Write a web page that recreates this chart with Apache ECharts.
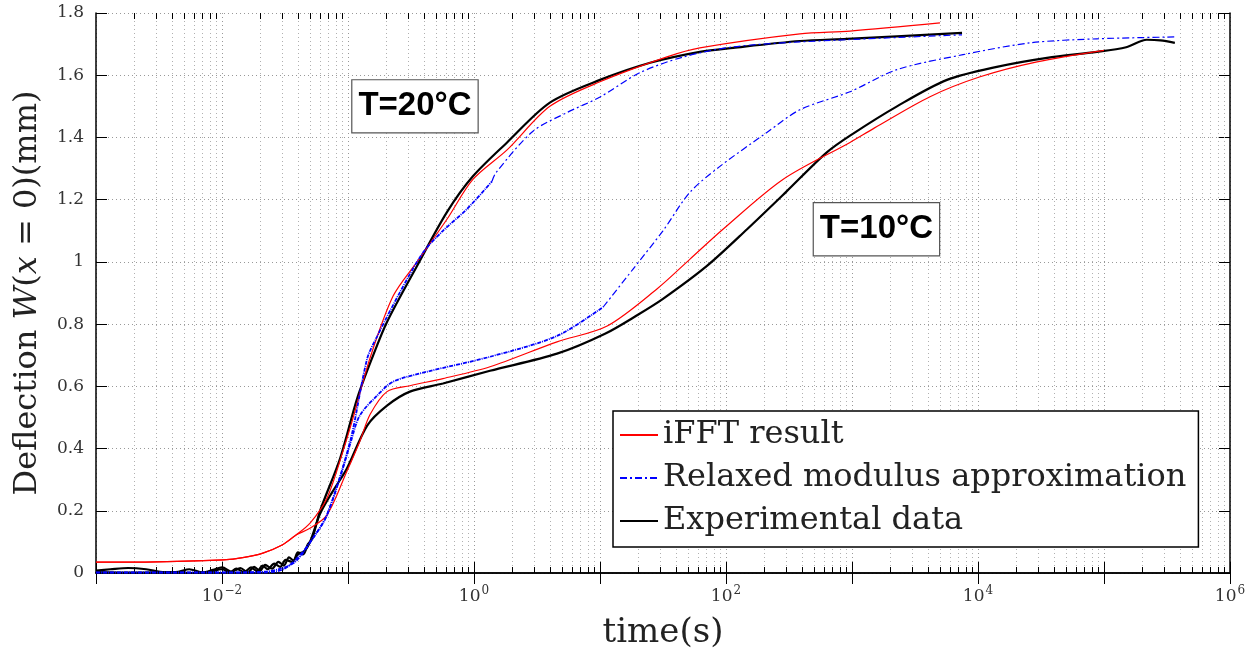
<!DOCTYPE html>
<html>
<head>
<meta charset="utf-8">
<script src="https://cdn.jsdelivr.net/npm/echarts@6/dist/echarts.min.js"></script>
<style>
  html, body { margin: 0; padding: 0; background: #fff; }
  #main { width: 1257px; height: 655px; }
</style>
</head>
<body>
<div id="main"></div>
<script>
// [time (s), deflection (mm)]
const ifft20 = [[0.001,0.035],[0.003,0.036],[0.0102,0.042],[0.015,0.05],[0.0211,0.064],[0.03,0.09],[0.0387,0.122],[0.05,0.16],[0.068,0.24],[0.091,0.39],[0.11,0.5],[0.149,0.689],[0.228,0.89],[0.353,1.0],[0.61,1.137],[0.98,1.265],[1.83,1.36],[4,1.5],[10,1.579],[34,1.659],[62,1.688],[386,1.733],[964,1.742],[4990,1.768]];
const ifft10 = [[0.001,0.035],[0.003,0.036],[0.0102,0.042],[0.015,0.05],[0.0211,0.064],[0.03,0.09],[0.0387,0.122],[0.0499,0.144],[0.068,0.186],[0.098,0.327],[0.124,0.423],[0.15,0.51],[0.204,0.583],[0.31,0.602],[0.567,0.625],[1.34,0.663],[4.56,0.743],[11.4,0.794],[28.3,0.913],[51.8,1.009],[94.6,1.105],[283,1.265],[964,1.384],[1500,1.43],[4160,1.531],[10400,1.595],[29400,1.643],[100000,1.68]];

const relaxed20Dense = [[0.001,0.002],[0.01,0.002],[0.021,0.004],[0.03,0.015],[0.0387,0.038],[0.0527,0.112],[0.068,0.186],[0.104,0.423],[0.142,0.689],[0.17,0.76],[0.259,0.903],[0.394,1.03],[0.567,1.1],[0.88,1.17],[1.39,1.259]];
const relaxed20Sparse = [[1.39,1.259],[1.5,1.288],[2.94,1.42],[5.47,1.48],[10,1.53],[20.7,1.608],[46,1.659],[114,1.691],[386,1.707],[7470,1.73]];
const relaxed10Dense = [[0.001,0.001],[0.02,0.001],[0.03,0.01],[0.04,0.05],[0.0527,0.112],[0.068,0.186],[0.09,0.33],[0.105,0.42],[0.124,0.506],[0.17,0.57],[0.228,0.615],[0.424,0.647],[1.34,0.695],[4.56,0.762],[10.6,0.855]];
const relaxed10Sparse = [[10.6,0.855],[18.3,0.977],[31.6,1.1],[51.8,1.224],[89.5,1.307],[211,1.416],[386,1.489],[964,1.547],[2275,1.618],[7600,1.666],[25900,1.704],[87900,1.717],[365000,1.723]];

const exp20 = [[0.001,0.008],[0.0013,0.012],[0.0018,0.016],[0.0025,0.012],[0.0035,0.002],[0.0045,0.004],[0.0055,0.012],[0.007,0.002],[0.0085,0.01],[0.01,0.018],[0.012,0.004],[0.014,0.016],[0.016,0.002],[0.018,0.02],[0.02,0.006],[0.022,0.026],[0.025,0.014],[0.028,0.036],[0.031,0.024],[0.034,0.05],[0.037,0.04],[0.04,0.066],[0.044,0.06],[0.048,0.092],[0.052,0.11],[0.06,0.2],[0.0865,0.368],[0.118,0.56],[0.155,0.69],[0.204,0.807],[0.353,0.987],[0.61,1.16],[0.98,1.275],[1.83,1.384],[4,1.512],[10,1.585],[25,1.64],[62,1.675],[114,1.688],[386,1.71],[912,1.717],[7470,1.736]];
const exp10 = [[0.001,0.003],[0.002,0.001],[0.004,0.003],[0.006,0.0],[0.008,0.004],[0.01,0.012],[0.0115,0.002],[0.013,0.014],[0.015,0.003],[0.017,0.018],[0.019,0.006],[0.021,0.024],[0.023,0.012],[0.026,0.03],[0.029,0.02],[0.032,0.042],[0.036,0.036],[0.04,0.06],[0.045,0.07],[0.05,0.1],[0.06,0.19],[0.075,0.26],[0.098,0.336],[0.142,0.474],[0.204,0.538],[0.31,0.583],[0.567,0.609],[1.34,0.65],[4.56,0.705],[10.96,0.769],[20,0.83],[31.6,0.881],[70.6,0.987],[147,1.105],[300,1.225],[631,1.352],[1000,1.41],[2275,1.5],[5675,1.585],[14100,1.627],[35300,1.656],[87900,1.675],[150000,1.69],[219000,1.714],[280000,1.712],[365000,1.704]];

const legendNames = ['iFFT result', 'Relaxed modulus approximation', 'Experimental data'];
// annotation boxes: [label, time, deflection]
const annotations = [['T=20°C', 0.34, 1.5], ['T=10°C', 1563, 1.105]];

// minor log ticks 2..9 in each decade
const decades = [-3, -2, -1, 0, 1, 2, 3, 4, 5];
const minorSteps = [2, 3, 4, 5, 6, 7, 8, 9];
const minorTicks = [];
decades.forEach(function (d) {
  minorSteps.forEach(function (m) { minorTicks.push([m * Math.pow(10, d), 0]); });
});

const serif = 'DejaVu Serif';
const dashDot = [7, 3, 2, 3];

function sup(v) {
  const e = Math.round(Math.log10(v));
  if (e % 2 !== 0) return '';
  return '{b|10}{e|' + String(e).replace('-', '\u2212') + '}';
}

function curve(name, data, color, width, dash, z) {
  return {
    name: name,
    type: 'line',
    data: data,
    symbol: 'none',
    smooth: 0.3,
    z: z,
    lineStyle: { color: color, width: width, type: dash || 'solid' },
    itemStyle: { color: color },
  };
}

let option = {
  animation: false,
  backgroundColor: '#fff',
  grid: { left: 96, right: 27, top: 13, bottom: 80 },
  legend: {
    data: legendNames,
    orient: 'vertical',
    left: 613,
    top: 411,
    padding: [8, 12, 10, 6],
    itemGap: 11,
    itemWidth: 38,
    itemHeight: 16,
    itemStyle: { opacity: 0 },
    backgroundColor: '#fff',
    borderColor: '#000',
    borderWidth: 1.5,
    borderRadius: 0,
    textStyle: { fontFamily: serif, fontSize: 32, color: '#222' },
  },
  xAxis: [
    {
      type: 'log',
      logBase: 10,
      min: 0.001,
      max: 1e6,
      position: 'bottom',
      name: 'time(s)',
      nameLocation: 'middle',
      nameGap: 43,
      nameTextStyle: { fontFamily: serif, fontSize: 34, color: '#222' },
      axisLine: { show: true, lineStyle: { color: '#000', width: 1.5 } },
      axisTick: { inside: true, length: 11, lineStyle: { color: '#000' } },
      axisLabel: {
        margin: 12,
        formatter: sup,
        rich: {
          b: { fontFamily: serif, fontSize: 17, color: '#333' },
          e: { fontFamily: serif, fontSize: 12, color: '#333', padding: [0, 0, 12, 1] },
        },
      },
      splitLine: { show: true, lineStyle: { color: '#999', type: [1, 3] } },
    },
    {
      type: 'log',
      logBase: 10,
      min: 0.001,
      max: 1e6,
      position: 'top',
      axisLine: { show: true, lineStyle: { color: '#000', width: 1.5 } },
      axisTick: { inside: true, length: 11, lineStyle: { color: '#000' } },
      axisLabel: { show: false },
      splitLine: { show: false },
    },
  ],
  yAxis: [
    {
      type: 'value',
      min: 0,
      max: 1.8,
      interval: 0.2,
      name: '{n|Deflection }{i|W}{n|(}{i|x}{n| = 0)(mm)}',
      nameLocation: 'middle',
      nameRotate: 90,
      nameGap: 52,
      nameTextStyle: {
        rich: {
          n: { fontFamily: serif, fontSize: 32, color: '#222' },
          i: { fontFamily: serif, fontStyle: 'italic', fontSize: 32, color: '#222' },
        },
      },
      axisLine: { show: true, lineStyle: { color: '#000', width: 1.5 } },
      axisTick: { inside: true, length: 11, lineStyle: { color: '#000' } },
      axisLabel: { margin: 12, fontFamily: serif, fontSize: 17, color: '#333' },
      splitLine: { show: true, lineStyle: { color: '#999', type: [1, 3] } },
    },
    {
      type: 'value',
      min: 0,
      max: 1.8,
      interval: 0.2,
      position: 'right',
      axisLine: { show: true, lineStyle: { color: '#000', width: 1.5 } },
      axisTick: { inside: true, length: 11, lineStyle: { color: '#000' } },
      axisLabel: { show: false },
      splitLine: { show: false },
    },
  ],
  series: [
    {
      type: 'custom',
      silent: true,
      z: 1,
      data: minorTicks,
      encode: { x: 0, y: 1 },
      renderItem: function (params, api) {
        const cs = params.coordSys;
        const x = Math.round(api.coord([api.value(0), 0.9])[0]) + 0.5;
        const y0 = cs.y, y1 = cs.y + cs.height;
        return {
          type: 'group',
          children: [
            { type: 'line', shape: { x1: x, y1: y0, x2: x, y2: y1 }, style: { stroke: '#b0b0b0', lineWidth: 1, lineDash: [1, 3] } },
            { type: 'line', shape: { x1: x, y1: y1, x2: x, y2: y1 - 6 }, style: { stroke: '#000', lineWidth: 1 } },
            { type: 'line', shape: { x1: x, y1: y0, x2: x, y2: y0 + 6 }, style: { stroke: '#000', lineWidth: 1 } },
          ],
        };
      },
    },
    curve('Experimental data', exp20, '#000', 2.2, null, 3),
    curve('Experimental data', exp10, '#000', 2.2, null, 3),
    Object.assign(curve('iFFT result', ifft20, '#ff0000', 1.2, null, 4), {
      markPoint: {
        symbol: 'rect',
        symbolSize: 1,
        silent: true,
        itemStyle: { color: 'rgba(0,0,0,0)' },
        label: {
          show: true,
          position: 'inside',
          formatter: '{b}',
          fontFamily: 'Liberation Sans',
          fontWeight: 'bold',
          fontSize: 33,
          color: '#000',
          backgroundColor: '#fff',
          borderColor: '#555',
          borderWidth: 1.2,
          padding: [10, 6, 9, 6],
        },
        data: annotations.map(function (a) { return { name: a[0], coord: [a[1], a[2]] }; }),
      },
    }),
    curve('iFFT result', ifft10, '#ff0000', 1.2, null, 4),
    curve('Relaxed modulus approximation', relaxed20Sparse, '#0000ff', 1.2, dashDot, 5),
    curve('Relaxed modulus approximation', relaxed10Sparse, '#0000ff', 1.2, dashDot, 5),
    curve('Relaxed modulus approximation', relaxed20Dense, '#0000ff', 1.8, [4, 1, 1, 1], 5),
    curve('Relaxed modulus approximation', relaxed10Dense, '#0000ff', 1.8, [4, 1, 1, 1], 5),
  ],
};

let chartDom = document.getElementById('main');
let myChart = echarts.init(chartDom);
option && myChart.setOption(option);
</script>
</body>
</html>
